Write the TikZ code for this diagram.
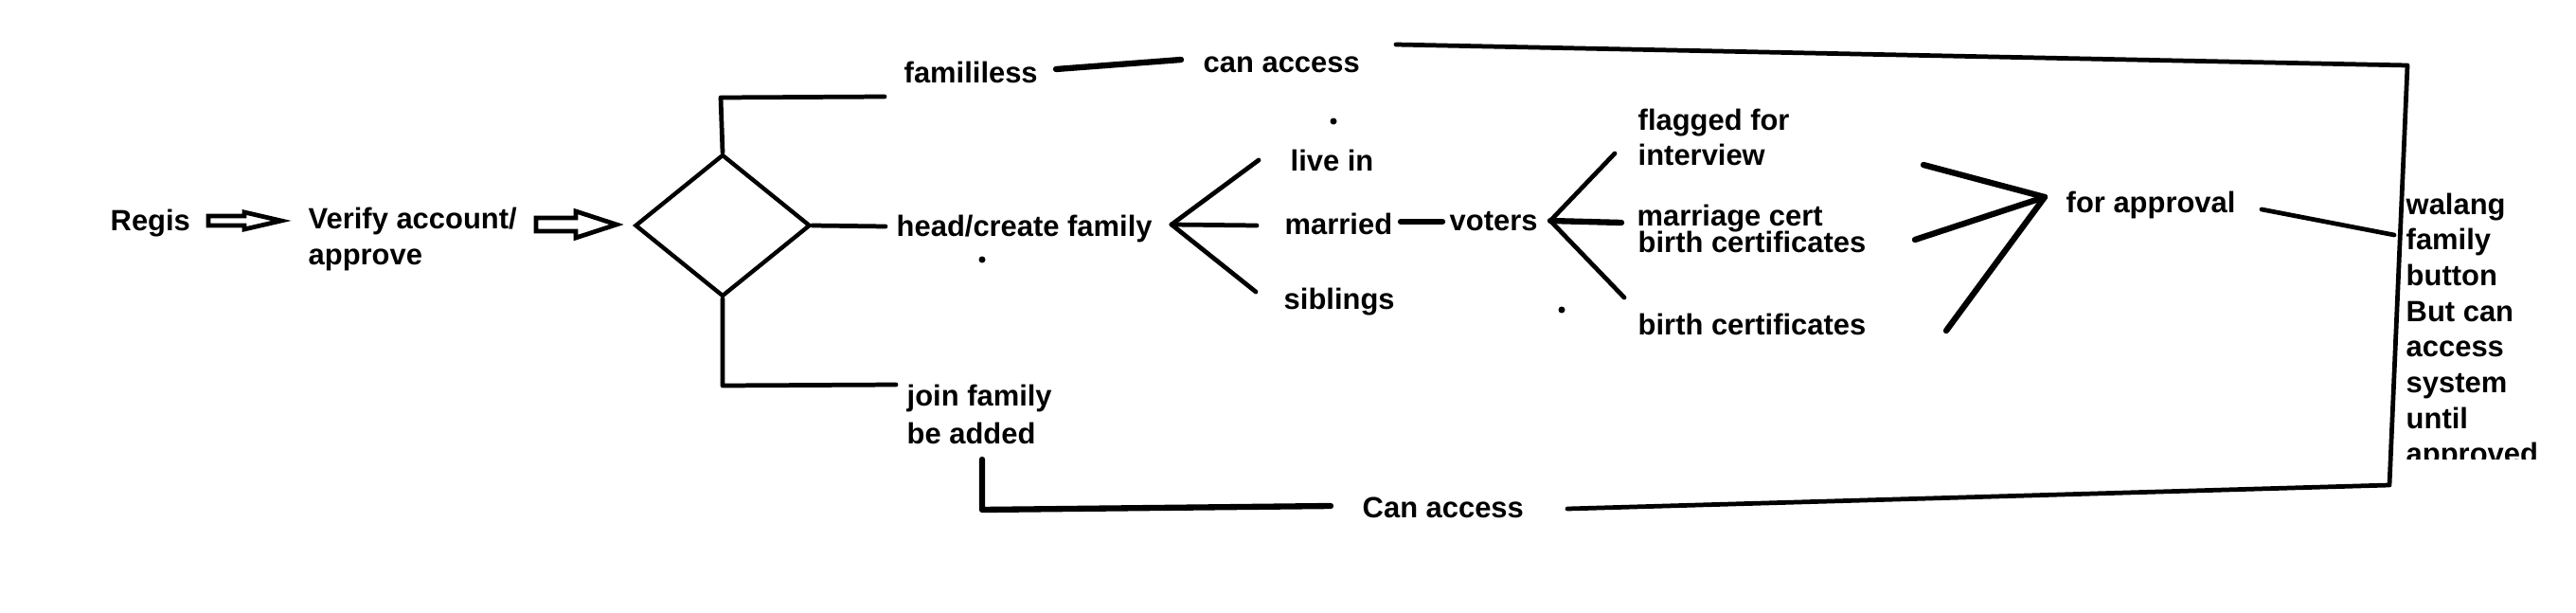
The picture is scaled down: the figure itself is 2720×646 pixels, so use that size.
\documentclass[tikz,border=0pt]{standalone}
\usepackage{fontspec}
\setmainfont{Liberation Sans}
\usetikzlibrary{positioning,shapes.geometric}

% tail x, neck x, tip x, mid y, half shaft, half head
\newcommand{\hollowarrow}[6]{%
  \draw[arrowline] (#1,#4-#5) -- (#2,#4-#5) -- (#2,#4-#6) -- (#3,#4)
    -- (#2,#4+#6) -- (#2,#4+#5) -- (#1,#4+#5) -- cycle;}

\begin{document}
\begin{tikzpicture}[x=0.1mm,y=-0.1mm,
    lbl/.style={anchor=base west,inner sep=0pt,font=\bfseries\fontsize{8.8pt}{10.8pt}\selectfont},
    link/.style={line width=1.35pt,line cap=round,line join=round},
    boldlink/.style={line width=1.8pt,line cap=round,line join=round},
    arrowline/.style={line width=1.35pt,line join=miter},
    dotnode/.style={circle,fill=black,inner sep=0pt,minimum size=0.7mm},
    decision/.style={diamond,draw,line width=1.25pt,inner sep=0pt,minimum width=18.5mm,minimum height=15mm}]
	\fill[white] (0,0) rectangle (2720,646);
	\useasboundingbox (0,0) rectangle (2720,646);

	% start
	\node[lbl]				(regis)		at (116,243)	{Regis};
	\hollowarrow{220}{258}{297}{233}{5}{9}
	\node[lbl]				(verify)	at (325,241)	{Verify account/};
	\node[lbl]				(approve)	at (325,279)	{approve};
	\hollowarrow{566}{608}{651}{237}{7}{14}
	\node[decision]			(dec)		at (763,238)	{};

	% three ways out of the decision
	\node[lbl]				(famless)	at (954,88)		{famililess};
	\node[lbl]				(canacc)	at (1270,76)	{can access};
	\node[lbl]				(head)		at (946,249)	{head/create family};
	\node[lbl]				(join)		at (957,428)	{join family};
	\node[lbl]				(added)		at (957,468)	{be added};
	\node[lbl]				(canaccb)	at (1438,546)	{Can access};

	\coordinate (topbend)	at (761,103);
	\coordinate (topend)	at (934,102);
	\coordinate (midend)	at (935,239);
	\coordinate (botbend)	at (763,407);
	\coordinate (botend)	at (946,406);
	\draw[link] (dec.north) -- (topbend) -- (topend);
	\draw[link] (dec.east) -- (midend);
	\draw[link] (dec.south) -- (botbend) -- (botend);

	% head branch
	\node[lbl]				(livein)	at (1362,180)	{live in};
	\node[lbl]				(married)	at (1356,247)	{married};
	\node[lbl]				(siblings)	at (1355,326)	{siblings};
	\node[lbl]				(voters)	at (1530,243)	{voters};
	\node[lbl]				(flagged)	at (1729,137)	{flagged for};
	\node[lbl]				(interview)	at (1729,174)	{interview};
	\node[lbl]				(marcert)	at (1728,238)	{marriage cert};
	\node[lbl]				(birtha)	at (1729,266)	{birth certificates};
	\node[lbl]				(birthb)	at (1729,353)	{birth certificates};
	\node[lbl]				(approval)	at (2181,224)	{for approval};

	\node[dotnode] (d0) at (1408,128) {};
	\node[dotnode] (d1) at (1037,274) {};
	\node[dotnode] (d2) at (1649,327) {};

	\coordinate (f1) at (1237,237);
	\draw[link] (f1) -- (1329,169);
	\draw[link] (f1) -- (1327,238);
	\draw[link] (f1) -- (1326,308);
	\draw[boldlink] (1479,234) -- (1523,234);

	\coordinate (f2) at (1637,233);
	\draw[link] (f2) -- (1705,162);
	\draw[boldlink] (f2) -- (1712,235);
	\draw[link] (f2) -- (1715,314);

	\coordinate (f3) at (2159,208);
	\draw[boldlink] (2031,174) -- (f3);
	\draw[boldlink] (2022,253) -- (f3);
	\draw[boldlink] (2055,349) -- (f3);

	% right side note
	\begin{scope}
		\clip (2500,0) rectangle (2720,484);
		\foreach \txt [count=\i from 0] in {walang,family,button,But can,access,system,until,approved}
			\node[lbl] (note\i) at (2540,226+37.7*\i) {\txt};
	\end{scope}

	\coordinate (tr) at (2542,69);
	\coordinate (br) at (2523,512);
	\coordinate (noteend) at (2528,248);
	\draw[boldlink] (1115,73) -- (1247,63);
	\draw[link] (1474,47) -- (tr) -- (br) -- (1655,537);
	\draw[boldlink] (1405,534) -- (1037,538) -- (1037,485);
	\draw[link] (2388,221) -- (noteend);
\end{tikzpicture}
\end{document}
